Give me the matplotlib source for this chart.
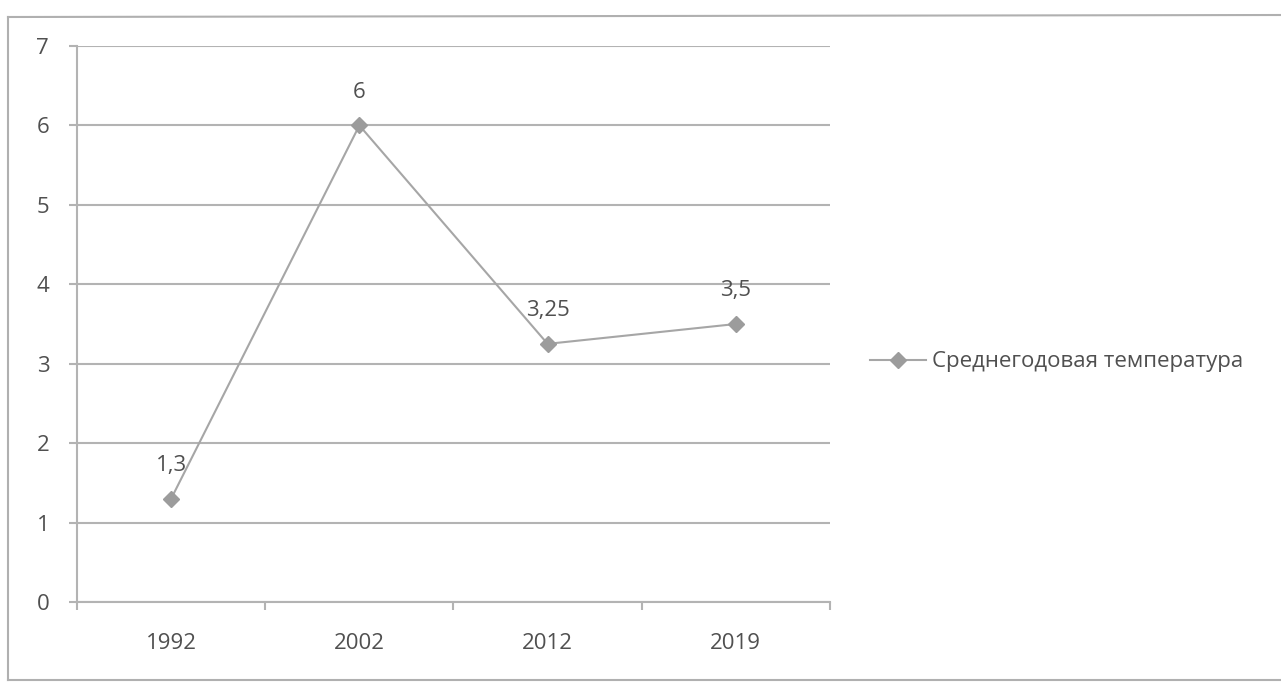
import matplotlib.pyplot as plt
from matplotlib.lines import Line2D

years = ['1992', '2002', '2012', '2019']
temps = [1.3, 6, 3.25, 3.5]
labels = ['1,3', '6', '3,25', '3,5']
series_name = 'Среднегодовая температура'

plt.rcParams['font.family'] = ['Open Sans', 'DejaVu Sans']
text_col = '#505050'
grid_col = '#b3b3b3'
line_col = '#a6a6a6'

W, H = 1281, 682
fig = plt.figure(figsize=(W / 100, H / 100), dpi=100)

# chart frame (right side runs off the page)
top, bot, left = 1 - 17 / H, 2 / H, 8 / W
for xs, ys in [([left, left], [bot, top]), ([left, 1], [top, top + 2 / H]),
               ([left, 1], [bot, bot])]:
    fig.add_artist(Line2D(xs, ys, color='#b0b0b0', lw=1.5, transform=fig.transFigure))

ax = fig.add_axes([77 / W, 1 - 602 / H, 753 / W, 556 / H])
x = list(range(len(years)))
ax.plot(x, temps, color=line_col, lw=1.5, marker='D', ms=8,
        markerfacecolor='#9c9c9c', markeredgecolor='#9c9c9c', label=series_name)
for xi, v, lab in zip(x, temps, labels):
    ax.annotate(lab, (xi, v), xytext=(0, 24), textcoords='offset points',
                ha='center', va='center', fontsize=16, color=text_col)

ax.set_xlim(-0.5, len(years) - 0.5)
ax.set_ylim(0, 7)
ax.set_yticks(range(8))
ax.set_xticks(x)
ax.set_xticklabels(years)
ax.set_xticks([i - 0.5 for i in range(len(years) + 1)], minor=True)
ax.tick_params(axis='x', which='major', length=0, pad=22, labelsize=16, colors=text_col)
ax.tick_params(axis='x', which='minor', length=6, color=grid_col, width=1.5)
ax.tick_params(axis='y', length=6, color=grid_col, width=1.5, pad=14, labelsize=16, colors=text_col)
ax.grid(axis='y', color=grid_col, lw=1.5)
ax.set_axisbelow(True)
for s in ['top', 'right']:
    ax.spines[s].set_visible(False)
for s in ['left', 'bottom']:
    ax.spines[s].set_color(grid_col)
    ax.spines[s].set_linewidth(1.5)

fig.legend(loc='center left', bbox_to_anchor=(850 / W, 1 - 362 / H),
           frameon=False, fontsize=16, labelcolor=text_col,
           handlelength=2.5, handletextpad=0.3)

fig.savefig('out.png', dpi=100)
